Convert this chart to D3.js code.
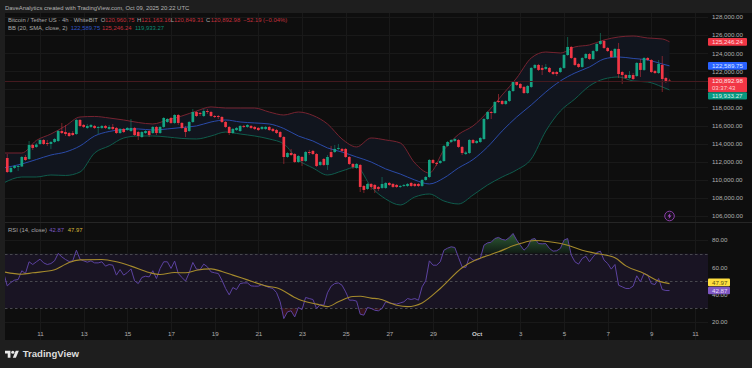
<!DOCTYPE html>
<html>
<head>
<meta charset="utf-8">
<title>BTCUSDT 4h</title>
<script src="https://cdn.jsdelivr.net/npm/d3@7"></script>
<style>
  html, body { margin: 0; padding: 0; background: #1e1e1e; overflow: hidden; }
  svg { display: block; }
  text { font-family: "Liberation Sans", Arial, sans-serif; }
  .axis path, .axis line { display: none; }
  .axis text { fill: #b0b0b0; font-size: 6.2px; font-family: "Liberation Sans", Arial, sans-serif; }
</style>
</head>
<body>
<div id="chart"></div>
<script>
// All prices in thousands of USD, one entry per 4h bar starting Sep 9 12:00 UTC
const opens = [
  112.41,110.86,111.31,111.42,111.47,112.52,112.30,113.85,113.63,113.96,
  114.40,114.07,113.96,114.18,114.29,115.39,115.28,115.17,115.17,115.06,
  116.61,116.06,115.73,115.84,115.95,115.73,115.73,115.95,115.62,115.84,
  115.73,115.17,115.62,115.50,115.39,115.73,115.28,114.73,115.17,115.39,
  115.17,115.84,115.17,115.84,116.39,116.83,116.28,117.16,116.28,115.73,
  115.39,116.39,117.49,117.38,117.05,117.60,117.49,117.05,117.05,116.94,
  116.39,115.84,115.17,115.50,115.39,115.95,115.84,115.95,115.84,115.73,
  115.62,115.62,115.84,115.62,115.50,115.28,114.73,112.52,112.96,112.85,
  111.97,112.52,112.08,113.07,113.19,112.85,111.64,112.30,111.64,113.07,
  113.07,113.41,113.41,113.41,112.52,111.75,111.31,111.64,109.32,108.99,
  109.54,109.43,109.21,109.10,109.10,109.65,109.54,109.43,109.21,109.32,
  109.32,109.65,109.54,109.54,109.32,109.98,110.31,112.19,111.86,111.86,
  112.08,113.74,114.18,114.29,114.40,113.63,112.85,112.96,114.40,114.07,
  114.18,114.51,116.72,117.49,117.38,118.71,118.71,118.38,118.71,119.81,
  120.81,120.59,120.26,119.59,120.26,122.36,122.69,122.36,122.25,122.36,
  121.91,121.91,121.91,122.36,123.79,124.68,123.46,122.80,122.47,123.46,
  123.90,123.35,124.23,125.01,125.34,124.57,124.23,123.57,124.46,121.91,
  121.58,121.25,121.58,121.47,122.91,122.14,123.46,123.24,122.02,121.80,
  122.69,121.25,120.96
];
const closes = [
  110.86,111.31,111.53,111.53,112.52,112.19,113.85,113.52,113.90,114.40,
  113.96,113.96,114.18,114.51,115.39,115.17,115.06,114.84,114.95,116.61,
  115.95,115.84,115.95,116.06,115.73,115.84,115.95,115.73,115.84,115.62,
  115.17,115.62,115.28,115.73,115.73,114.95,114.84,115.28,115.39,114.95,
  115.84,115.17,115.84,116.83,116.72,116.28,117.16,116.28,115.73,115.28,
  116.39,117.49,117.05,117.27,117.60,117.49,117.05,116.94,116.94,116.39,
  115.84,115.17,115.62,115.73,115.95,115.84,116.06,115.73,115.62,115.50,
  115.84,115.84,115.50,115.39,115.17,114.73,112.52,112.96,112.74,111.97,
  112.63,112.08,113.07,112.96,112.85,111.53,111.97,111.64,112.52,112.52,
  113.41,113.52,113.19,112.52,111.75,111.42,111.75,109.21,108.88,109.54,
  109.21,108.99,108.99,109.54,109.65,109.43,109.21,109.21,109.32,109.43,
  109.54,109.32,109.32,109.32,109.98,110.31,112.19,111.86,111.75,112.08,
  113.74,114.18,114.40,114.51,113.63,112.96,113.02,114.40,114.07,114.29,
  114.62,116.72,117.49,117.38,118.60,118.60,118.38,118.71,119.81,120.81,
  120.48,120.15,119.59,120.37,122.36,122.69,122.14,122.14,122.47,121.91,
  121.69,121.69,122.36,123.79,124.68,123.46,122.69,122.47,123.46,123.90,
  123.35,124.23,125.01,125.34,124.57,124.23,123.57,124.46,121.69,121.58,
  121.25,121.58,121.14,122.91,122.14,123.46,123.24,121.91,121.80,122.80,
  121.14,120.92,120.89
];
const highs = [
  112.85,111.42,111.64,111.64,112.63,112.74,114.29,113.96,114.07,114.51,
  114.51,114.40,114.29,114.62,115.50,116.28,116.06,115.28,115.39,116.72,
  116.72,116.17,116.17,116.17,116.06,115.95,116.06,116.06,116.06,116.17,
  115.84,115.73,115.73,115.84,116.72,115.84,115.39,115.39,115.50,115.50,
  115.95,115.95,115.95,116.94,116.83,116.94,117.27,117.27,116.39,115.95,
  116.50,117.82,117.60,117.49,117.82,117.82,117.60,117.16,117.16,117.05,
  116.50,115.95,115.73,115.84,116.06,116.06,116.17,116.06,115.95,115.84,
  115.95,115.95,115.95,115.73,115.62,115.39,114.84,113.07,113.41,112.96,
  112.74,112.63,113.19,113.30,113.30,112.96,112.08,112.41,112.74,113.74,
  113.85,113.96,113.52,113.52,112.63,111.86,111.86,111.75,109.43,109.65,
  109.65,109.54,109.32,110.31,109.76,109.76,109.65,109.54,109.43,109.54,
  109.65,109.76,109.65,109.65,110.09,110.42,112.30,112.30,111.97,112.19,
  113.85,114.29,114.51,114.62,114.51,113.74,113.19,114.51,114.51,114.40,
  114.73,116.83,117.60,117.60,118.71,119.48,118.82,118.82,119.93,120.92,
  120.92,120.70,120.37,120.48,122.47,122.80,122.80,122.69,122.80,122.47,
  122.02,122.02,122.47,123.90,125.78,124.79,123.57,122.91,123.57,124.01,
  124.01,124.35,125.12,126.22,125.45,124.68,124.35,124.57,125.12,122.02,
  121.69,122.02,121.80,123.02,123.35,123.57,123.57,123.35,122.14,123.24,
  123.68,121.36,121.16
];
const lows = [
  110.75,110.75,111.20,110.98,111.42,112.08,112.19,113.30,113.52,113.85,
  113.85,113.74,113.41,114.07,114.18,115.06,114.84,114.73,114.84,114.95,
  115.84,115.73,115.62,115.73,115.62,115.06,115.62,115.62,115.50,115.50,
  115.06,115.06,115.17,115.39,115.28,114.84,114.40,114.62,115.06,114.73,
  115.06,114.95,115.06,115.73,116.28,116.17,116.17,116.06,115.62,114.73,
  115.28,116.28,116.94,117.05,116.94,117.27,116.94,116.83,116.72,116.28,
  115.73,114.95,115.06,115.39,115.28,115.73,115.73,115.62,115.50,115.39,
  115.50,115.50,115.39,115.28,115.06,114.62,111.75,112.41,112.63,111.86,
  111.86,111.53,111.97,112.74,112.74,111.42,111.53,111.53,111.09,112.41,
  112.96,113.30,113.07,112.41,111.64,111.20,111.20,108.65,108.54,108.88,
  108.88,108.54,108.77,108.99,108.99,109.32,109.10,109.10,109.10,109.21,
  109.21,109.21,109.21,109.21,109.21,109.87,110.20,111.75,111.53,111.75,
  111.97,113.63,114.07,114.18,113.52,112.74,112.74,112.85,113.96,113.96,
  114.07,114.40,116.61,116.72,117.27,118.49,118.27,118.27,118.60,119.70,
  120.37,120.04,119.48,119.48,120.15,122.25,122.02,121.58,122.14,121.80,
  121.58,121.47,121.80,122.25,123.68,123.35,122.58,122.36,122.36,123.35,
  123.24,123.24,124.12,124.90,124.46,124.12,123.46,123.46,121.25,120.59,
  121.14,121.14,121.03,121.36,121.36,122.02,123.13,121.80,121.69,121.69,
  119.70,120.70,120.85
];

// Bollinger bands read at every fourth bar
const bandBars = [-1,4,8,12,16,20,24,28,32,36,40,44,48,52,56,60,64,68,72,76,80,84,88,92,96,100,104,108,112,116,120,124,128,132,136,140,144,148,152,156,160,164,168,172,176,180,182];
const bbUpper = [112.96,112.96,114.35,115.06,115.95,116.94,117.00,116.83,116.61,116.33,116.17,116.61,117.05,117.60,118.05,117.93,117.93,117.93,117.49,117.16,117.49,117.11,116.17,114.51,113.63,114.62,114.40,114.07,111.86,110.75,113.30,115.01,115.95,117.49,119.37,121.25,123.46,124.12,124.01,124.68,124.90,125.45,125.78,125.89,125.67,125.56,125.25];
const bbBasis = [111.31,111.75,112.24,112.74,113.07,113.74,114.84,115.34,115.56,115.62,115.50,115.62,115.78,115.95,116.39,116.61,116.39,116.28,116.17,115.67,114.84,114.29,113.52,113.07,112.52,111.97,111.20,110.64,109.98,109.54,110.20,111.31,112.24,113.63,115.39,116.94,118.27,119.70,120.92,121.80,122.47,123.35,123.57,123.41,123.24,122.80,122.59];
const bbLower = [109.65,110.31,110.31,110.53,110.48,110.86,112.96,113.74,114.62,114.84,114.84,114.73,114.57,114.51,114.84,115.28,115.06,114.84,114.51,113.96,112.19,111.31,110.53,110.98,111.42,109.21,107.88,107.22,108.10,108.43,107.66,107.33,108.32,109.43,110.31,111.09,112.30,115.39,117.60,118.93,120.37,121.14,121.36,120.92,120.81,120.26,119.93];

// RSI per bar, first entry is the bar just left of the visible window
const rsiValues = [
  55.9,46.3,48.8,50.5,51.0,57.4,55.4,64.0,62.0,64.0,65.9,
  63.2,62.0,62.7,64.7,70.1,67.6,65.7,64.2,64.7,72.5,
  65.9,64.7,63.7,64.7,63.2,63.2,64.0,60.8,62.0,61.5,
  54.2,58.3,54.2,56.1,58.8,50.0,48.0,52.5,53.4,52.9,
  57.4,51.7,59.1,64.0,64.0,59.1,64.5,55.4,52.5,49.8,
  55.9,63.5,58.6,58.3,62.3,60.3,56.6,55.9,55.4,50.5,
  44.4,39.7,45.1,43.6,48.0,48.5,48.5,46.3,46.1,46.1,
  47.3,46.1,45.1,44.4,41.4,34.6,22.3,27.2,28.0,23.5,
  30.4,28.9,37.8,37.0,36.3,29.7,32.6,32.1,41.2,46.1,
  48.0,48.5,46.8,41.9,35.8,35.8,35.1,25.5,24.8,30.4,
  29.7,28.4,28.0,29.7,34.6,33.8,33.3,32.9,33.8,34.6,
  37.0,36.3,37.0,35.8,45.6,50.0,64.7,61.5,61.5,64.0,
  72.5,74.0,75.0,74.5,67.2,60.3,59.8,67.6,65.2,65.2,
  66.4,76.2,77.9,78.4,81.1,81.9,80.4,79.9,81.9,84.8,
  79.9,76.2,72.5,75.0,80.4,81.1,77.4,77.2,77.4,73.8,
  71.8,72.1,73.8,79.9,81.1,68.9,64.0,62.3,66.4,68.1,
  64.0,67.6,70.8,71.8,65.2,62.7,58.6,62.0,46.8,45.6,
  44.4,44.4,46.1,53.7,49.3,55.4,54.2,48.0,47.3,51.7,
  43.6,42.9,42.87
];
const rsiMaBars = [-1,4,7,13,15,17,20,26,30,34,39,42,46,49,52,56,59,62,66,71,74,80,85,88,91,95,97,100,102,107,110,114,119,125,129,131,135,139,141,145,149,154,158,162,167,170,175,179,182];
const rsiMaValues = [56.6,54.9,55.9,58.1,60.8,63.5,65.4,65.7,64.0,60.8,56.1,54.7,56.1,55.9,57.8,58.8,56.9,54.2,50.7,46.3,44.9,36.5,32.9,31.1,34.6,38.5,38.7,37.3,36.8,32.1,31.1,33.8,44.4,59.6,65.7,67.6,71.3,75.7,77.4,79.6,78.7,76.2,72.5,70.1,66.9,61.0,55.4,49.8,47.97];

// Axis ticks and labels
const priceTicks = [128,126,124,122,120,118,116,114,112,110,108,106];
const rsiTicks = [80,60,40,20];
const rsiLevels = [70,50,30];
const dayTicks = ["2025-09-11","2025-09-13","2025-09-15","2025-09-17","2025-09-19","2025-09-21","2025-09-23","2025-09-25","2025-09-27","2025-09-29","2025-10-01","2025-10-03","2025-10-05","2025-10-07","2025-10-09","2025-10-11"];
const dayLabels = ["11","13","15","17","19","21","23","25","27","29","Oct","3","5","7","9","11"];

const width = 752, height = 368;
const paneLeft = 5, paneRight = 708, paneTop = 13, paneBottom = 340, paneSplit = 222;
const upColor = "#14a483", downColor = "#f23645";

const svg = d3.select("#chart").append("svg").attr("width", width).attr("height", height);

const firstBar = new Date(Date.UTC(2025, 8, 9, 12));
function barDate(i) { return d3.utcHour.offset(firstBar, i * 4); }

// Scales
const x = d3.scaleUtc().domain([new Date("2025-09-11"), new Date("2025-10-11")]).range([40, 695]);
const y = d3.scaleLinear().domain([126, 106]).range([35, 216]);
const yRsi = d3.scaleLinear().domain([80, 20]).range([240, 321.7]);

// Background
svg.append("rect").attr("width", width).attr("height", height).attr("fill", "#1e1e1e");
svg.append("rect").attr("x", paneLeft).attr("y", paneTop).attr("width", width - paneLeft).attr("height", paneBottom - paneTop).attr("fill", "#0e0e0e");

// Clips
const defs = svg.append("defs");
defs.append("clipPath").attr("id", "plotClip").append("rect")
  .attr("x", paneLeft).attr("y", paneTop).attr("width", paneRight - paneLeft).attr("height", paneBottom - paneTop);
defs.append("clipPath").attr("id", "aboveClip").append("rect")
  .attr("x", paneLeft).attr("y", paneSplit).attr("width", paneRight - paneLeft).attr("height", yRsi(70) - paneSplit);
defs.append("clipPath").attr("id", "belowClip").append("rect")
  .attr("x", paneLeft).attr("y", yRsi(30)).attr("width", paneRight - paneLeft).attr("height", paneBottom - yRsi(30));
const greenFade = defs.append("linearGradient").attr("id", "greenFade")
  .attr("gradientUnits", "userSpaceOnUse")
  .attr("x1", 0).attr("x2", 0).attr("y1", yRsi(85)).attr("y2", yRsi(70));
greenFade.append("stop").attr("offset", "0%").attr("stop-color", "#2f5f36");
greenFade.append("stop").attr("offset", "100%").attr("stop-color", "#101a14");

// Grid
const grid = svg.append("g").attr("stroke", "#191919").attr("stroke-width", 1);
dayTicks.forEach(function (d) {
  const gx = Math.round(x(new Date(d))) + 0.5;
  grid.append("line").attr("x1", gx).attr("x2", gx).attr("y1", paneTop).attr("y2", paneBottom);
});
priceTicks.forEach(function (d) {
  const gy = Math.round(y(d)) + 0.5;
  grid.append("line").attr("x1", paneLeft).attr("x2", paneRight).attr("y1", gy).attr("y2", gy);
});
rsiTicks.forEach(function (d) {
  const gy = Math.round(yRsi(d)) + 0.5;
  grid.append("line").attr("x1", paneLeft).attr("x2", paneRight).attr("y1", gy).attr("y2", gy);
});

// Pane separator
svg.append("line").attr("x1", paneLeft).attr("x2", width).attr("y1", paneSplit + 0.5).attr("y2", paneSplit + 0.5).attr("stroke", "#262626");

// Price pane
const main = svg.append("g").attr("clip-path", "url(#plotClip)");

const bandArea = d3.area().curve(d3.curveMonotoneX)
  .x(function (d, i) { return x(barDate(bandBars[i])); })
  .y0(function (d, i) { return y(bbLower[i]); })
  .y1(function (d) { return y(d); });
main.append("path").attr("d", bandArea(bbUpper)).attr("fill", "#11151e");

function bandLine(values, color) {
  const line = d3.line().curve(d3.curveMonotoneX)
    .x(function (d, i) { return x(barDate(bandBars[i])); })
    .y(function (d) { return y(d); });
  main.append("path").attr("d", line(values)).attr("fill", "none").attr("stroke", color).attr("stroke-width", 1);
}
bandLine(bbUpper, "#762330");
bandLine(bbBasis, "#2a4aa8");
bandLine(bbLower, "#0f5c4c");

// Candles
const bars = d3.range(opens.length);
function barColor(i) { return closes[i] >= opens[i] ? upColor : downColor; }
main.append("g").selectAll("line").data(bars).enter().append("line")
  .attr("x1", function (i) { return x(barDate(i)); })
  .attr("x2", function (i) { return x(barDate(i)); })
  .attr("y1", function (i) { return y(highs[i]); })
  .attr("y2", function (i) { return y(lows[i]); })
  .attr("stroke", barColor)
  .attr("stroke-opacity", 0.6)
  .attr("stroke-width", 0.8);
const bodyWidth = 2.7;
main.append("g").selectAll("rect").data(bars).enter().append("rect")
  .attr("x", function (i) { return x(barDate(i)) - bodyWidth / 2; })
  .attr("width", bodyWidth)
  .attr("y", function (i) { return y(Math.max(opens[i], closes[i])); })
  .attr("height", function (i) { return Math.max(0.8, Math.abs(y(opens[i]) - y(closes[i]))); })
  .attr("fill", barColor);

// Last price line
const lastClose = closes[closes.length - 1];
main.append("line").attr("x1", paneLeft).attr("x2", paneRight)
  .attr("y1", Math.round(y(lastClose)) + 0.5).attr("y2", Math.round(y(lastClose)) + 0.5)
  .attr("stroke", "#451a1f").attr("stroke-width", 1);

// Lightning marker
const bolt = svg.append("g").attr("transform", "translate(" + x(new Date("2025-10-09T20:00:00Z")) + ",216)");
bolt.append("circle").attr("r", 4.8).attr("fill", "#17101c").attr("stroke", "#8a3fa8").attr("stroke-width", 1);
bolt.append("path").attr("d", "M0.9,-3 L-2,0.5 L-0.2,0.5 L-0.9,3 L2,-0.6 L0.2,-0.6 Z").attr("fill", "#a84fc8");

// RSI pane
const rsi = svg.append("g").attr("clip-path", "url(#plotClip)");
rsi.append("rect").attr("x", paneLeft).attr("width", paneRight - paneLeft)
  .attr("y", yRsi(70)).attr("height", yRsi(30) - yRsi(70)).attr("fill", "#191423");

const rsiPoints = rsiValues.map(function (v, i) { return { bar: i - 1, value: v }; });
const rsiX = function (d) { return x(barDate(d.bar)); };
const overArea = d3.area().x(rsiX).y0(yRsi(70)).y1(function (d) { return yRsi(d.value); });
rsi.append("g").attr("clip-path", "url(#aboveClip)").append("path")
  .attr("d", overArea(rsiPoints)).attr("fill", "url(#greenFade)");
rsi.append("g").attr("clip-path", "url(#belowClip)").append("path")
  .attr("d", overArea.y0(yRsi(30))(rsiPoints)).attr("fill", "#33131a");

rsiLevels.forEach(function (d) {
  rsi.append("line").attr("x1", paneLeft).attr("x2", paneRight)
    .attr("y1", Math.round(yRsi(d)) + 0.5).attr("y2", Math.round(yRsi(d)) + 0.5)
    .attr("stroke", "#48484f").attr("stroke-dasharray", "2.5 2.5");
});

rsi.append("path")
  .attr("d", d3.line().x(rsiX).y(function (d) { return yRsi(d.value); })(rsiPoints))
  .attr("fill", "none").attr("stroke", "#5c42a0").attr("stroke-width", 1);
rsi.append("path")
  .attr("d", d3.line().curve(d3.curveMonotoneX)
    .x(function (d, i) { return x(barDate(rsiMaBars[i])); })
    .y(function (d) { return yRsi(d); })(rsiMaValues))
  .attr("fill", "none").attr("stroke", "#a58a2c").attr("stroke-width", 1.1);

// Axes
const priceAxis = d3.axisRight(y).tickValues(priceTicks).tickSize(0).tickPadding(0)
  .tickFormat(function (d) { return d3.format(",.2f")(d * 1000); });
svg.append("g").attr("class", "axis").attr("transform", "translate(712,0)").call(priceAxis);

const rsiAxis = d3.axisRight(yRsi).tickValues(rsiTicks).tickSize(0).tickPadding(0)
  .tickFormat(d3.format(".2f"));
svg.append("g").attr("class", "axis").attr("transform", "translate(712,0)").call(rsiAxis);

const timeAxis = d3.axisBottom(x).tickValues(dayTicks.map(function (d) { return new Date(d); })).tickSize(0).tickPadding(0)
  .tickFormat(function (d, i) { return dayLabels[i]; });
const timeG = svg.append("g").attr("class", "axis").attr("transform", "translate(0,331.6)").call(timeAxis);
timeG.selectAll("text").filter(function (d, i) { return dayLabels[i] === "Oct"; })
  .style("font-weight", "bold").style("fill", "#cccccc");

// Value tags on the scale
function addTag(top, h, w, fill, label, color) {
  svg.append("rect").attr("x", paneRight).attr("y", top).attr("width", w).attr("height", h).attr("rx", 1).attr("fill", fill);
  svg.append("text").attr("x", 712).attr("y", top + 5.9).attr("font-size", 6.2).attr("fill", color).text(label);
}
const lastUpper = bbUpper[bbUpper.length - 1], lastBasis = bbBasis[bbBasis.length - 1];
addTag(y(lastUpper) - 3.8, 7.8, 39, "#f23645", "125,246.24", "#ffd9dc");
addTag(y(lastBasis) - 3.8, 7.6, 39, "#2962ff", "122,589.75", "#dbe5ff");
addTag(y(lastClose) - 3.9, 15, 39, "#f23645", "120,892.98", "#ffe6e8");
svg.append("text").attr("x", 712).attr("y", y(lastClose) + 9).attr("font-size", 6).attr("fill", "#ffd0d4").text("03:37:43");
addTag(92.2, 7.2, 39, "#089981", "119,933.27", "#d4f2ec");
addTag(yRsi(47.97) - 5, 7.6, 22, "#ffdf3f", "47.97", "#5e5210");
addTag(yRsi(42.87) - 3.8, 7.6, 22, "#7e57c2", "42.87", "#e6dcf8");

// Legends
function legend(xPos, yPos, label, color) {
  svg.append("text").attr("x", xPos).attr("y", yPos).attr("font-size", 5.9).attr("fill", color).text(label);
}
legend(5, 9.5, "DaveAnalytics created with TradingView.com, Oct 09, 2025 20:22 UTC", "#b4b4b4");
legend(8, 22, "Bitcoin / Tether US · 4h · WhiteBIT", "#a8a8a8");
legend(100.7, 22, "O", "#a8a8a8"); legend(105, 22, "120,960.75", "#c4303c");
legend(137, 22, "H", "#a8a8a8"); legend(141.3, 22, "121,163.16", "#c4303c");
legend(170.7, 22, "L", "#a8a8a8"); legend(174, 22, "120,849.31", "#c4303c");
legend(206, 22, "C", "#a8a8a8"); legend(210.7, 22, "120,892.98", "#c4303c");
legend(243.3, 22, "−52.19 (−0.04%)", "#c4303c");
legend(8, 30, "BB (20, SMA, close, 2)", "#a8a8a8");
legend(70.7, 30, "122,589.75", "#2f55c8");
legend(102, 30, "125,246.24", "#c4303c");
legend(135, 30, "119,933.27", "#0d8a72");
legend(8, 232, "RSI (14, close)", "#a8a8a8");
legend(49.3, 232, "42.87", "#7a58c0");
legend(67.7, 232, "47.97", "#d8b93a");

// Footer logo
const logo = svg.append("g").attr("transform", "translate(5,349.1) scale(0.39)").attr("fill", "#e8e8e8");
logo.append("path").attr("d", "M14 22H7V11H0V4h14v18zM28 22h-8l7.5-18h8L28 22z");
logo.append("circle").attr("cx", 20).attr("cy", 8).attr("r", 4);
svg.append("text").attr("x", 22.7).attr("y", 357.3).attr("font-size", 9.6).attr("font-weight", "bold").attr("fill", "#dcdcdc").text("TradingView");
</script>
</body>
</html>
